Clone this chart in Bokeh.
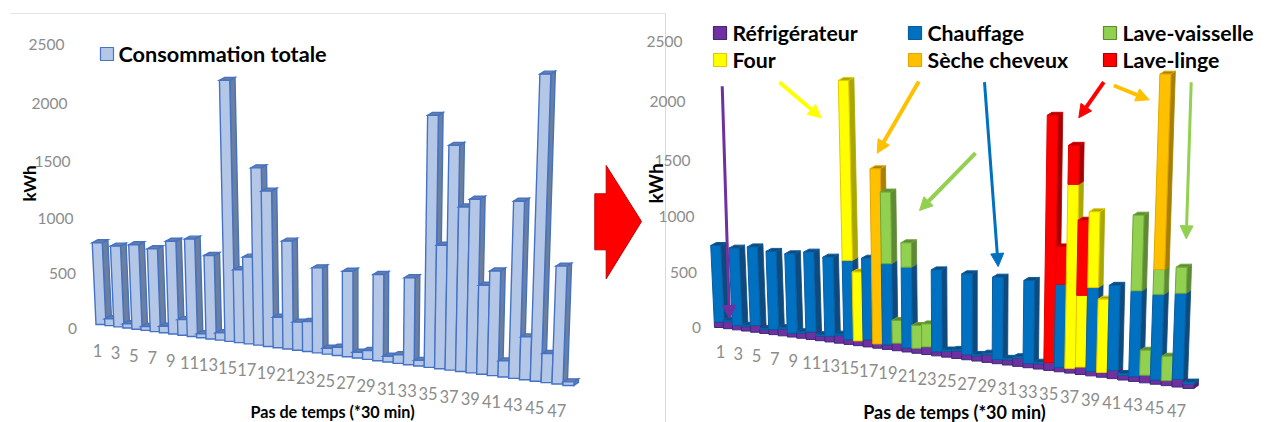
from bokeh.plotting import figure
from bokeh.models import Range1d, Arrow, NormalHead, ColumnDataSource
from bokeh.core.properties import value
from bokeh.embed import file_html
from bokeh.resources import INLINE
import math

# ---------- data (kWh) ----------
steps = list(range(1, 49))
tick_labels = [str(s) for s in steps if s % 2 == 1]
y_ticks = [0, 500, 1000, 1500, 2000, 2500]

total = [767, 64, 748, 39, 773, 36, 749, 59, 829, 139, 859, 34, 727, 64, 2250, 625,
         739, 1502, 1308, 255, 898, 233, 247, 696, 48, 66, 688, 47, 71, 683, 45, 68,
         678, 44, 1944, 948, 1716, 1249, 1312, 669, 782, 120, 1312, 316, 2251, 212, 856, 26]

refrigerateur = [50, 65, 40, 40, 60, 33, 45, 60, 33, 45, 65, 40, 48, 65, 40, 40,
                 60, 35, 38, 62, 33, 40, 62, 33, 45, 60, 40, 40, 60, 33, 40, 62,
                 33, 40, 60, 33, 35, 55, 33, 35, 60, 33, 35, 55, 30, 35, 55, 30]
chauffage = [707, 12, 705, 12, 708, 12, 695, 12, 698, 12, 693, 12, 679, 12, 672, 0,
             683, 0, 672, 0, 661, 0, 0, 659, 12, 12, 640, 12, 12, 641, 12, 12,
             636, 12, 0, 627, 0, 0, 623, 0, 626, 15, 624, 0, 617, 0, 614, 15]
four = [0, 0, 0, 0, 0, 0, 0, 0, 0, 0, 0, 0, 0, 0, 1525, 580,
        0, 0, 0, 0, 0, 0, 0, 0, 0, 0, 0, 0, 0, 0, 0, 0,
        0, 0, 0, 0, 1382, 536, 563, 542, 0, 0, 0, 0, 0, 0, 0, 0]
seche_cheveux = [0, 0, 0, 0, 0, 0, 0, 0, 0, 0, 0, 0, 0, 0, 0, 0,
                 0, 1459, 0, 0, 0, 0, 0, 0, 0, 0, 0, 0, 0, 0, 0, 0,
                 0, 0, 0, 0, 0, 0, 0, 0, 0, 0, 0, 0, 1408, 0, 0, 0]
lave_vaisselle = [0, 0, 0, 0, 0, 0, 0, 0, 0, 0, 0, 0, 0, 0, 0, 0,
                  0, 0, 593, 187, 200, 186, 186, 0, 0, 0, 0, 0, 0, 0, 0, 0,
                  0, 0, 0, 0, 0, 0, 0, 0, 0, 0, 551, 181, 180, 176, 186, 0]
lave_linge = [0, 0, 0, 0, 0, 0, 0, 0, 0, 0, 0, 0, 0, 0, 0, 0,
              0, 0, 0, 0, 0, 0, 0, 0, 0, 0, 0, 0, 0, 0, 0, 0,
              0, 0, 1875, 282, 293, 561, 0, 0, 0, 0, 0, 0, 0, 0, 0, 0]

# stack order bottom -> top : (values, front, side, outline)
stack = [
    (refrigerateur, "#7030A0", "#4A2070", "#3B2A7A"),
    (chauffage, "#0070C0", "#0E4A7E", "#0A5C9E"),
    (four, "#FFFF00", "#A8A800", "#E8C800"),
    (lave_linge, "#FF0000", "#A80000", "#E00000"),
    (lave_vaisselle, "#92D050", "#5F8A35", "#6FA53A"),
    (seche_cheveux, "#FFC000", "#A88000", "#E0A800"),
]

FONT = "Lato"
GREY = "#8C8C8C"

# ---------- oblique view shared by both panels ----------
def x0(n): return 96 + 8.91 * n + 0.0218 * n * n
def y0(n): return 324 + 1.17 * n + 0.0027 * n * n
def kk(n): return 0.1065 + 0.00068 * n
def lean(n): return -0.046 + 0.00176 * n
def wid(n): return 10 + 0.022 * n
def dep(n): return 5.6 - 0.025 * n

def pt(n, fx, v, ox, oy, sc, back=False):
    h = kk(n) * sc * v
    x = x0(n) + ox + wid(n) * fx + lean(n) * h
    y = y0(n) + oy - h
    if back:
        x += dep(n)
        y -= 3
    return x, y

xs, ys, fills, lines, widths = [], [], [], [], []
def add(points, fill, line, lw):
    xs.append([a for a, _ in points])
    ys.append([b for _, b in points])
    fills.append(fill); lines.append(line); widths.append(lw)

def bar(n, segs, top_col, ox, oy, sc, lw):
    # segs: (v0, v1, front, side, line)
    for v0_, v1_, fr, si, li in segs:
        add([pt(n, 1, v0_, ox, oy, sc), pt(n, 1, v1_, ox, oy, sc),
             pt(n, 1, v1_, ox, oy, sc, True), pt(n, 1, v0_, ox, oy, sc, True)], si, si if lw < 1.2 else li, 0.8 if lw < 1.2 else lw)
    vt = segs[-1][1]
    add([pt(n, 0, vt, ox, oy, sc), pt(n, 1, vt, ox, oy, sc),
         pt(n, 1, vt, ox, oy, sc, True), pt(n, 0, vt, ox, oy, sc, True)], top_col, segs[-1][4], lw)
    for v0_, v1_, fr, si, li in segs:
        add([pt(n, 0, v0_, ox, oy, sc), pt(n, 1, v0_, ox, oy, sc),
             pt(n, 1, v1_, ox, oy, sc), pt(n, 0, v1_, ox, oy, sc)], fr, li, lw)

# left panel
for i, s in enumerate(steps):
    bar(i, [(0, total[i], "#B4C7E7", "#6C7F9E", "#4472C4")], "#6C7F9E", -0.5, 0, 1.0, 1.4)

# right panel
R_OX, R_OY, R_SC = 619.5, 3, 1.017
for i, s in enumerate(steps):
    cur, segs = 0, []
    for vals, fr, si, li in stack:
        if vals[i] > 0:
            segs.append((cur, cur + vals[i], fr, si, li))
            cur += vals[i]
    bar(i, segs, segs[-1][3], R_OX - 1.5 + 0.032 * i, R_OY, R_SC, 1.0)

p = figure(width=1266, height=422, output_backend="svg", toolbar_location=None,
           x_range=Range1d(0, 1266), y_range=Range1d(422, 0), min_border=0,
           background_fill_color="white", border_fill_color="white")
p.axis.visible = False
p.grid.visible = False
p.outline_line_color = None

# separators
p.line([10, 665], [13, 13], line_color="#E4E4E4", line_width=1)
p.line([665, 665], [13, 422], line_color="#D9D9D9", line_width=1)

p.patches("xs", "ys", source=ColumnDataSource(dict(xs=xs, ys=ys, f=fills, l=lines, w=widths)),
          fill_color="f", line_color="l", line_width="w", line_join="miter")

def txt(x, y, t, size, color="black", bold=False, align="center", angle=0):
    p.text([x], [y], text=[t], text_font=value(FONT), text_font_size=f"{size}px",
           text_color=color, text_align=align, text_baseline="middle", angle=angle,
           text_font_style="bold" if bold else "normal")

# value axes (labels follow the receding axis)
for tick, lx, rx, ly, ry in zip(y_ticks, [72, 62, 55, 52, 49, 46], [696, 683, 676, 672, 667, 664],
                                [328, 273, 218, 161, 103, 44], [327, 272, 216, 160, 101, 41]):
    txt(lx, ly, str(tick), 15.5, GREY)
    txt(rx, ry, str(tick), 15.5, GREY)

# step labels
for lab in tick_labels:
    n = int(lab) - 1
    txt(x0(n) + 1 + 0.07 * n, y0(n) + 26, lab, 16.5, GREY)
    txt(x0(n) + R_OX + 4.5, y0(n) + R_OY + 23.5, lab, 16.5, GREY)

# axis titles
txt(332, 411, "Pas de temps (*30 min)", 16.2, bold=True)
txt(954, 411, "Pas de temps (*30 min)", 18, bold=True)
txt(29, 183, "kWh", 17, bold=True, angle=math.pi / 2)
txt(655, 183, "kWh", 19, bold=True, angle=math.pi / 2)

# legends
def swatch(x, y, fill, line):
    p.quad(left=[x], right=[x + 13], top=[y], bottom=[y + 13], fill_color=fill, line_color=line, line_width=1.2)

swatch(100, 47, "#B4C7E7", "#4472C4")
txt(118, 53.5, "Consommation totale", 21.7, bold=True, align="left")

legend_items = [
    ("Réfrigérateur", 713, "#7030A0", "#3B2A7A"),
    ("Chauffage", 908, "#0070C0", "#0A5C9E"),
    ("Lave-vaisselle", 1103, "#92D050", "#5F8A35"),
    ("Four", 713, "#FFFF00", "#E8C800"),
    ("Sèche cheveux", 908, "#FFC000", "#E0A800"),
    ("Lave-linge", 1103, "#FF0000", "#A80000"),
]
for i, (name, sx, f, l) in enumerate(legend_items):
    yy = 26 if i < 3 else 53
    swatch(sx, yy, f, l)
    txt(sx + 19, yy + 6, name, 21.3, bold=True, align="left")

# annotation arrows
arrows = [
    (721.7, 85.7, 729, 318, "#7030A0", 3),
    (779, 81.7, 820.7, 117.3, "#FFFF00", 4),
    (918.3, 81, 876.7, 152.7, "#FFC000", 4),
    (975, 152.7, 919, 210, "#92D050", 4),
    (984, 81.7, 997.7, 266, "#0070C0", 3),
    (1103.3, 81.7, 1078.3, 117.3, "#FF0000", 4),
    (1113.3, 85, 1148.7, 99.3, "#FFC000", 4),
    (1190.7, 81.7, 1185.7, 238.3, "#92D050", 3),
]
for xa, ya, xb, yb, c, w in arrows:
    p.add_layout(Arrow(end=NormalHead(size=13, fill_color=c, line_color=c, line_width=1),
                       x_start=xa, y_start=ya, x_end=xb, y_end=yb, line_color=c, line_width=w))

# central block arrow
p.patch([594.3, 605.7, 605.7, 641, 605.7, 605.7, 594.3], [193.3, 193.3, 165, 221, 278.3, 249.3, 249.3],
        fill_color="#FF0000", line_color="#C00000", line_width=1)

open("out.html", "w").write(file_html(p, INLINE))
